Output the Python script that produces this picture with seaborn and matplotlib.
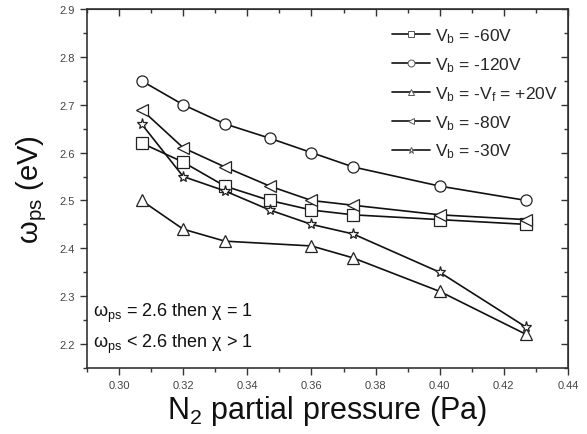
import numpy as np
import pandas as pd
import matplotlib
matplotlib.use("Agg")
import matplotlib.pyplot as plt
from matplotlib.lines import Line2D
from matplotlib.ticker import MultipleLocator
import seaborn as sns

# N2 partial pressure (Pa) and plasma energy (eV) for each substrate bias
p_full = [0.307, 0.320, 0.333, 0.347, 0.360, 0.373, 0.400, 0.427]
p_float = [0.307, 0.320, 0.333, 0.360, 0.373, 0.400, 0.427]

w_60 = [2.62, 2.58, 2.53, 2.50, 2.48, 2.47, 2.46, 2.45]
w_120 = [2.75, 2.70, 2.66, 2.63, 2.60, 2.57, 2.53, 2.50]
w_float = [2.50, 2.44, 2.415, 2.405, 2.38, 2.31, 2.22]
w_80 = [2.69, 2.61, 2.57, 2.53, 2.50, 2.49, 2.47, 2.46]
w_30 = [2.66, 2.55, 2.52, 2.48, 2.45, 2.43, 2.35, 2.235]

labels = [
    "V$_{\\mathregular{b}}$ = -60V",
    "V$_{\\mathregular{b}}$ = -120V",
    "V$_{\\mathregular{b}}$ = -V$_{\\mathregular{f}}$ = +20V",
    "V$_{\\mathregular{b}}$ = -80V",
    "V$_{\\mathregular{b}}$ = -30V",
]
series = [(p_full, w_60), (p_full, w_120), (p_float, w_float),
          (p_full, w_80), (p_full, w_30)]
marker_shapes = ["s", "o", "^", "<", "*"]

x_ticks = [0.30, 0.32, 0.34, 0.36, 0.38, 0.40, 0.42, 0.44]
y_ticks = [2.2, 2.3, 2.4, 2.5, 2.6, 2.7, 2.8, 2.9]

df = pd.concat(
    [pd.DataFrame({"p": xs, "w": ys, "bias": lab})
     for lab, (xs, ys) in zip(labels, series)],
    ignore_index=True,
)

sns.set_style("ticks")
plt.rcParams["font.family"] = ["Liberation Sans", "DejaVu Sans"]
plt.rcParams["mathtext.fontset"] = "custom"
plt.rcParams["mathtext.rm"] = "Liberation Sans"
plt.rcParams["mathtext.it"] = "Liberation Sans:italic"
plt.rcParams["mathtext.bf"] = "Liberation Sans:bold"

fig = plt.figure(figsize=(5.87, 4.35), dpi=100)
ax = fig.add_axes([87 / 587, 1 - 369 / 435, (568 - 87) / 587, (369 - 10) / 435])

sns.lineplot(
    data=df, x="p", y="w", hue="bias", style="bias",
    hue_order=labels, style_order=labels,
    palette=["#111111"] * 5,
    markers=dict(zip(labels, marker_shapes)), dashes=False,
    markersize=8, markerfacecolor="white", markeredgecolor="#222222",
    markeredgewidth=0.9, linewidth=1.2, legend=False, sort=False, ax=ax,
)

ax.set_xlim(0.29, 0.44)
ax.set_ylim(2.15, 2.9)
ax.set_xticks(x_ticks)
ax.set_yticks(y_ticks)
ax.set_xticklabels([f"{v:.2f}" for v in x_ticks])
ax.set_yticklabels([f"{v:.1f}" for v in y_ticks])
ax.xaxis.set_minor_locator(MultipleLocator(0.01))
ax.yaxis.set_minor_locator(MultipleLocator(0.05))

for s in ax.spines.values():
    s.set_visible(True)
    s.set_color("#333333")
    s.set_linewidth(1.2)

# outward ticks with labels on the bottom and left edges
ax.tick_params(which="both", bottom=True, left=True, top=False, right=False,
               direction="out", color="#333333", width=1.0,
               labelsize=8, labelcolor="#444444")
ax.tick_params(which="major", length=5)
ax.tick_params(which="minor", length=3)

# mirrored top and right edges carry inward ticks without labels
ax2 = ax.secondary_xaxis("top")
ax2.set_xticks(x_ticks)
ax2.xaxis.set_minor_locator(MultipleLocator(0.01))
ax2.tick_params(which="both", direction="in", color="#333333", width=1.0,
                labeltop=False)
ax2.tick_params(which="major", length=5)
ax2.tick_params(which="minor", length=3)
ax3 = ax.secondary_yaxis("right")
ax3.set_yticks(y_ticks)
ax3.yaxis.set_minor_locator(MultipleLocator(0.05))
ax3.tick_params(which="both", direction="in", color="#333333", width=1.0,
                labelright=False)
ax3.tick_params(which="major", length=5)
ax3.tick_params(which="minor", length=3)

ax.set_xlabel("N$_{\\mathregular{2}}$ partial pressure (Pa)", fontsize=22,
              color="#111111", labelpad=2)
ax.set_ylabel("ω$_{\\mathregular{ps}}$ (eV)", fontsize=21, color="#111111",
              labelpad=8)

handles = [
    Line2D([], [], color="#111111", lw=1.2, marker=m, markersize=5,
           markerfacecolor="white", markeredgecolor="#555555",
           markeredgewidth=0.7)
    for m in marker_shapes
]
leg = ax.legend(handles, labels, loc="upper right", frameon=False,
                fontsize=12.5, handlelength=2.2, handletextpad=0.3,
                labelspacing=0.58, borderaxespad=0.3,
                bbox_to_anchor=(1.005, 0.985))

ax.text(0.012, 0.145, "ω$_{\\mathregular{ps}}$ = 2.6 then χ = 1",
        transform=ax.transAxes, fontsize=13, color="#111111")
ax.text(0.012, 0.058, "ω$_{\\mathregular{ps}}$ < 2.6 then χ > 1",
        transform=ax.transAxes, fontsize=13, color="#111111")

fig.savefig("out.png", dpi=100)
